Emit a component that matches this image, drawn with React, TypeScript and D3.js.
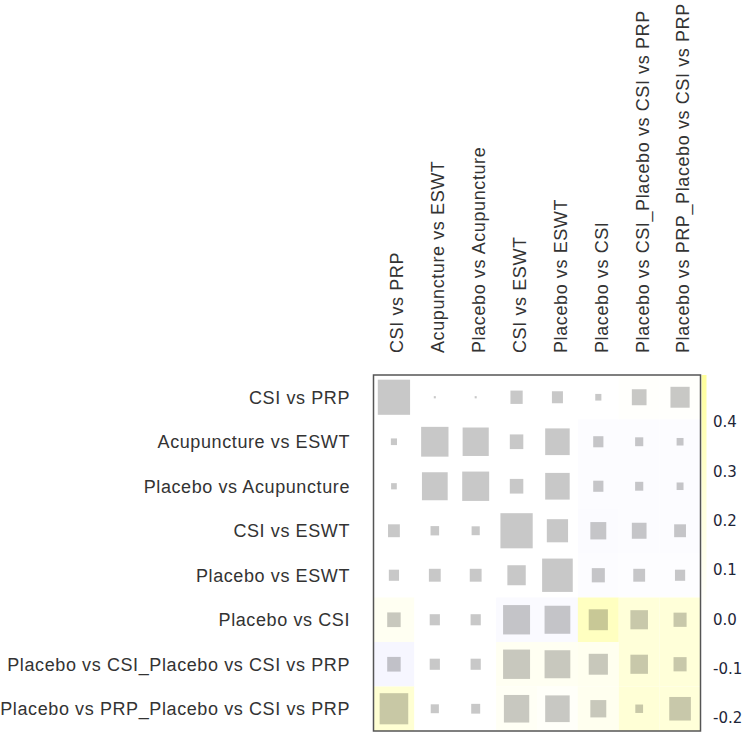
import React, { useEffect, useRef } from 'react';
import * as d3 from 'd3';

// comparisons, same order on rows and columns
const labels = [
  'CSI vs PRP',
  'Acupuncture vs ESWT',
  'Placebo vs Acupuncture',
  'CSI vs ESWT',
  'Placebo vs ESWT',
  'Placebo vs CSI',
  'Placebo vs CSI_Placebo vs CSI vs PRP',
  'Placebo vs PRP_Placebo vs CSI vs PRP',
];

// square size (share of the cell)
const sizes = [
  [0.79, 0.05, 0.05, 0.3, 0.27, 0.15, 0.36, 0.47],
  [0.15, 0.67, 0.64, 0.33, 0.6, 0.25, 0.2, 0.17],
  [0.14, 0.63, 0.66, 0.33, 0.6, 0.25, 0.2, 0.17],
  [0.29, 0.21, 0.2, 0.79, 0.52, 0.39, 0.36, 0.29],
  [0.25, 0.29, 0.29, 0.45, 0.75, 0.32, 0.29, 0.25],
  [0.33, 0.25, 0.25, 0.66, 0.63, 0.47, 0.43, 0.32],
  [0.33, 0.25, 0.25, 0.66, 0.63, 0.47, 0.43, 0.32],
  [0.7, 0.2, 0.22, 0.62, 0.6, 0.39, 0.19, 0.53],
];

// cell colour value
const shades = [
  [0, 0, 0, 0, 0, 0, 0.01, 0.01],
  [0, 0, 0, 0, 0, -0.015, -0.015, -0.015],
  [0, 0, 0, 0, 0, -0.015, -0.015, -0.015],
  [0, 0, 0, 0, 0, -0.025, -0.015, -0.015],
  [0, 0, 0, 0, 0, -0.02, -0.01, -0.01],
  [0.04, 0, 0, -0.03, -0.03, 0.2, 0.12, 0.12],
  [-0.05, 0, 0, 0.04, 0.04, 0.05, 0.12, 0.12],
  [0.14, 0, 0, 0.03, 0.02, 0.05, 0.13, 0.12],
];

const legendTicks = [0.4, 0.3, 0.2, 0.1, 0.0, -0.1, -0.2];

function App() {
  const ref = useRef<SVGSVGElement>(null);

  useEffect(() => {
    const svg = d3.select(ref.current);
    svg.selectAll('*').remove();

    const left = 373.5, right = 700.5, top = 375, bottom = 731;
    const x = d3.scaleBand().domain(labels).range([left, right]);
    const y = d3.scaleBand().domain(labels).range([top, bottom]);
    const size = d3.scaleLinear().domain([0, 1]).range([0, 1]);
    const color = d3.scaleLinear<string>()
      .domain([-0.2, 0, 0.4])
      .range(['#dcdcff', '#ffffff', '#ffff80']);
    const font = 'Liberation Sans, Arial, sans-serif';

    const cells = labels.flatMap((r, i) =>
      labels.map((c, j) => ({ r, c, s: sizes[i][j], v: shades[i][j] })));

    svg.append('g').selectAll('rect')
      .data(cells)
      .enter().append('rect')
      .attr('x', d => x(d.c)!)
      .attr('y', d => y(d.r)!)
      .attr('width', x.bandwidth())
      .attr('height', y.bandwidth())
      .attr('fill', d => color(d.v));

    svg.append('g').selectAll('rect')
      .data(cells)
      .enter().append('rect')
      .attr('x', d => x(d.c)! + x.bandwidth() * (1 - size(d.s)) / 2)
      .attr('y', d => y(d.r)! + y.bandwidth() * (1 - size(d.s)) / 2)
      .attr('width', d => x.bandwidth() * size(d.s))
      .attr('height', d => y.bandwidth() * size(d.s))
      .attr('fill', '#000')
      .attr('fill-opacity', 0.215);

    // colour strip, mostly hidden behind the frame
    const grad = svg.append('defs').append('linearGradient')
      .attr('id', 'legend-grad')
      .attr('x1', 0).attr('y1', 0).attr('x2', 0).attr('y2', 1);
    [0.4, 0.15, 0, 0].forEach((v, k) => {
      grad.append('stop')
        .attr('offset', `${(k / 3) * 100}%`)
        .attr('stop-color', color(v));
    });
    svg.append('rect')
      .attr('x', right + 1)
      .attr('y', top)
      .attr('width', 5)
      .attr('height', bottom - top)
      .attr('fill', 'url(#legend-grad)')
      .attr('opacity', 0.8);

    svg.append('rect')
      .attr('x', left)
      .attr('y', top)
      .attr('width', right - left)
      .attr('height', bottom - top)
      .attr('fill', 'none')
      .attr('stroke', '#555')
      .attr('stroke-width', 1.5);

    svg.append('g').selectAll('text')
      .data(labels)
      .enter().append('text')
      .attr('x', 350)
      .attr('y', d => y(d)! + y.bandwidth() / 2)
      .attr('dy', '0.35em')
      .attr('text-anchor', 'end')
      .attr('font-family', font)
      .attr('font-size', 18)
      .attr('letter-spacing', 0.6)
      .attr('fill', '#333')
      .text(d => d);

    svg.append('g').selectAll('text')
      .data(labels)
      .enter().append('text')
      .attr('transform', d => `translate(${x(d)! + x.bandwidth() / 2 + 3},353) rotate(-90)`)
      .attr('dy', '0.35em')
      .attr('font-family', font)
      .attr('font-size', 18)
      .attr('letter-spacing', 0.6)
      .attr('fill', '#333')
      .text(d => d);

    const ly = d3.scaleLinear().domain([-0.2, 0.4]).range([718, 422]);
    svg.append('g').selectAll('text')
      .data(legendTicks)
      .enter().append('text')
      .attr('x', 713)
      .attr('y', d => ly(d))
      .attr('dy', '0.35em')
      .attr('font-family', 'DejaVu Sans, sans-serif')
      .attr('font-size', 15)
      .attr('fill', '#1e2638')
      .text(d => d.toFixed(1));
  }, []);

  return (
    <svg ref={ref} width={750} height={750}
      style={{ position: 'absolute', left: 0, top: 0, background: '#fff' }} />
  );
}

export default App;
